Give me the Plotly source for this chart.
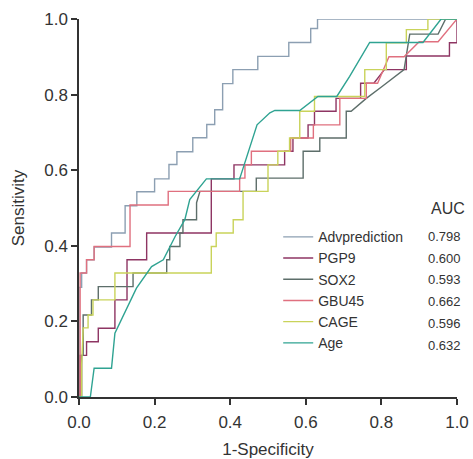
import plotly.graph_objects as go

# ---- data ----
series_names = ["Advprediction", "PGP9", "SOX2", "GBU45", "CAGE", "Age"]
auc_values = ["0.798", "0.600", "0.593", "0.662", "0.596", "0.632"]
tick_vals = [0.0, 0.2, 0.4, 0.6, 0.8, 1.0]
tick_text = ["0.0", "0.2", "0.4", "0.6", "0.8", "1.0"]

adv_fpr = [0, 0, 0.007, 0.007, 0.02, 0.02, 0.04, 0.04, 0.086, 0.086, 0.122, 0.122, 0.153, 0.153, 0.2, 0.2,
           0.238, 0.238, 0.259, 0.259, 0.301, 0.301, 0.338, 0.338, 0.359, 0.359, 0.38, 0.38, 0.407, 0.407,
           0.473, 0.473, 0.555, 0.555, 0.613, 0.613, 0.631, 0.631, 1]
adv_tpr = [0, 0.29, 0.29, 0.328, 0.328, 0.363, 0.363, 0.397, 0.397, 0.434, 0.434, 0.506, 0.506, 0.543, 0.543,
           0.577, 0.577, 0.615, 0.615, 0.649, 0.649, 0.686, 0.686, 0.721, 0.721, 0.76, 0.76, 0.829, 0.829,
           0.866, 0.866, 0.901, 0.901, 0.938, 0.938, 0.975, 0.975, 1, 1]

pgp9_fpr = [0, 0.003, 0.003, 0.02, 0.02, 0.051, 0.051, 0.095, 0.095, 0.127, 0.127, 0.179, 0.179, 0.35, 0.35,
            0.41, 0.41, 0.544, 0.544, 0.566, 0.566, 0.606, 0.606, 0.623, 0.623, 0.68, 0.68, 0.745, 0.745,
            0.78, 0.808, 0.866, 0.866, 0.98, 0.98, 1, 1]
pgp9_tpr = [0, 0, 0.11, 0.11, 0.146, 0.146, 0.182, 0.182, 0.257, 0.257, 0.363, 0.363, 0.434, 0.434, 0.577,
            0.577, 0.614, 0.614, 0.65, 0.65, 0.685, 0.685, 0.72, 0.72, 0.756, 0.756, 0.79, 0.79, 0.83, 0.83,
            0.866, 0.866, 0.902, 0.902, 0.937, 0.937, 1]

sox2_fpr = [0, 0.007, 0.007, 0.011, 0.011, 0.033, 0.033, 0.051, 0.051, 0.143, 0.143, 0.232, 0.232, 0.24,
            0.24, 0.267, 0.267, 0.275, 0.275, 0.311, 0.311, 0.32, 0.469, 0.469, 0.593, 0.593, 0.637, 0.637,
            0.707, 0.707, 0.72, 0.76, 0.8, 0.86, 0.875, 0.95, 0.97, 1]
sox2_tpr = [0, 0, 0.11, 0.11, 0.217, 0.217, 0.257, 0.257, 0.292, 0.292, 0.328, 0.328, 0.363, 0.363, 0.398,
            0.398, 0.434, 0.434, 0.469, 0.469, 0.514, 0.544, 0.544, 0.579, 0.579, 0.65, 0.65, 0.685, 0.685,
            0.756, 0.756, 0.79, 0.82, 0.866, 0.96, 0.96, 1, 1]

gbu45_fpr = [0, 0.003, 0.003, 0.02, 0.02, 0.04, 0.04, 0.135, 0.135, 0.236, 0.236, 0.425, 0.425, 0.439, 0.439,
             0.456, 0.456, 0.56, 0.56, 0.62, 0.62, 0.69, 0.69, 0.76, 0.76, 0.79, 0.82, 0.86, 0.9, 0.95, 1]
gbu45_tpr = [0, 0, 0.328, 0.328, 0.363, 0.363, 0.398, 0.398, 0.508, 0.508, 0.544, 0.544, 0.579, 0.579, 0.614,
             0.614, 0.65, 0.65, 0.685, 0.685, 0.72, 0.72, 0.79, 0.79, 0.83, 0.83, 0.9, 0.9, 0.94, 0.94, 1]

cage_fpr = [0, 0.007, 0.007, 0.011, 0.024, 0.024, 0.037, 0.037, 0.095, 0.095, 0.35, 0.35, 0.363, 0.363, 0.408,
            0.408, 0.434, 0.434, 0.5, 0.5, 0.526, 0.526, 0.557, 0.557, 0.584, 0.584, 0.623, 0.623, 0.756,
            0.756, 0.813, 0.813, 0.866, 0.866, 0.923, 0.923, 1]
cage_tpr = [0, 0, 0.085, 0.183, 0.183, 0.217, 0.217, 0.257, 0.257, 0.328, 0.328, 0.398, 0.398, 0.434, 0.434,
            0.469, 0.469, 0.544, 0.544, 0.614, 0.614, 0.65, 0.65, 0.685, 0.685, 0.756, 0.756, 0.795, 0.795,
            0.866, 0.866, 0.937, 0.937, 0.972, 0.972, 1, 1]

age_fpr = [0, 0.03, 0.04, 0.086, 0.095, 0.152, 0.192, 0.223, 0.254, 0.28, 0.293, 0.337, 0.425, 0.471, 0.505,
           0.518, 0.584, 0.632, 0.682, 0.716, 0.769, 0.91, 0.958, 1]
age_tpr = [0, 0, 0.076, 0.076, 0.169, 0.288, 0.345, 0.363, 0.424, 0.469, 0.522, 0.577, 0.577, 0.72, 0.752,
           0.758, 0.758, 0.795, 0.795, 0.848, 0.938, 0.938, 1, 1]

series_fpr = [adv_fpr, pgp9_fpr, sox2_fpr, gbu45_fpr, cage_fpr, age_fpr]
series_tpr = [adv_tpr, pgp9_tpr, sox2_tpr, gbu45_tpr, cage_tpr, age_tpr]
colors = ["#8c9fb2", "#8e3563", "#5d6e6a", "#e0707f", "#c9d35a", "#2fa392"]

FONT = "Liberation Sans, Arial, Helvetica, sans-serif"

fig = go.Figure()
for name, xs, ys, c in zip(series_names, series_fpr, series_tpr, colors):
    fig.add_trace(go.Scatter(x=xs, y=ys, mode="lines", name=name,
                             line=dict(color=c, width=1.4), cliponaxis=False))

axis_common = dict(range=[0, 1], tickvals=tick_vals, ticktext=tick_text, showgrid=False, zeroline=False,
                   showline=True, linecolor="#333333", linewidth=1.5, ticks="outside", ticklen=6,
                   tickcolor="#333333", tickwidth=1.5, tickfont=dict(size=17, color="#333333"),
                   automargin=False)

fig.update_layout(
    width=473, height=459,
    margin=dict(l=79, r=16, t=19, b=62),
    paper_bgcolor="white", plot_bgcolor="white",
    font=dict(family=FONT, color="#333333"),
    showlegend=True,
    legend=dict(x=0.527, y=0.465, xanchor="left", yanchor="top",
                bgcolor="rgba(255,255,255,0)", font=dict(size=14, color="#333333"),
                traceorder="normal"),
    xaxis=dict(axis_common, ticklabelstandoff=3,
               title=dict(text="1-Specificity", font=dict(size=17, color="#333333"))),
    yaxis=dict(axis_common, title=dict(text="Sensitivity", font=dict(size=17, color="#333333"))),
)

fig.add_annotation(x=0.925, y=0.5, xref="paper", yref="paper", text="AUC", showarrow=False,
                   xanchor="left", yanchor="middle", font=dict(size=16, color="#333333"))
row_y = [0.424, 0.367, 0.310, 0.252, 0.195, 0.136]
for ry, v in zip(row_y, auc_values):
    fig.add_annotation(x=0.918, y=ry, xref="paper", yref="paper", text=v, showarrow=False,
                       xanchor="left", yanchor="middle", font=dict(size=13, color="#333333"))

fig.write_html("out.html", config={"displayModeBar": False},
               post_script="document.body.style.margin='0';")
